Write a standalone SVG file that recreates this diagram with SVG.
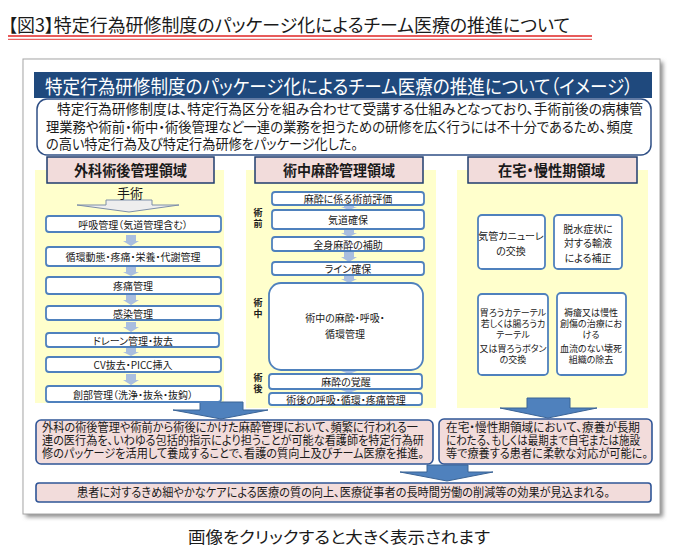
<svg xmlns="http://www.w3.org/2000/svg" width="690" height="550" viewBox="0 0 690 550">
<defs>
<style>
.t{font-family:"Noto Sans CJK JP","Noto Sans",sans-serif;font-feature-settings:"palt" 1;fill:#1a1a1a;}
.c{text-anchor:middle;dominant-baseline:central;}
.s10{font-size:10px;}
.s9{font-size:9px;}
.box{fill:#fff;stroke:#4f81bd;stroke-width:1.8;}
.hdr{fill:#f2dcdb;stroke:#1f3d6e;stroke-width:1.5;}
.yel{fill:#ffffcc;}
.sm{fill:#a9bedf;}
.big{fill:#4f81bd;stroke:#3b6496;stroke-width:1;}
.pk{fill:#f2dcdb;stroke:#2f5597;stroke-width:1.6;}
.hl{font-size:14.5px;font-weight:bold;}
.side{font-size:9px;font-weight:bold;text-anchor:middle;}
</style>
<filter id="sh" x="-5%" y="-5%" width="110%" height="110%">
<feGaussianBlur stdDeviation="2"/>
</filter>
</defs>
<rect width="690" height="550" fill="#fff"/>

<g id="title">
<text class="t" x="8" y="32" font-size="18" textLength="562" lengthAdjust="spacingAndGlyphs">【図3】特定行為研修制度のパッケージ化によるチーム医療の推進について</text>
<line x1="8" y1="36" x2="592" y2="36" stroke="#e02424" stroke-width="1.6"/>
<line x1="8" y1="39.3" x2="592" y2="39.3" stroke="#e02424" stroke-width="0.9"/>
</g>

<g id="frame">
<rect x="26" y="62" width="637" height="455" fill="#8a8a8a" filter="url(#sh)"/>
<rect x="23" y="59" width="637" height="455" fill="#fff" stroke="#a6a6a6" stroke-width="1"/>
</g>

<g id="header">
<rect x="34" y="72" width="618" height="26" fill="#1f497d"/>
<text class="t" x="45" y="93.5" font-size="19.5" style="fill:#fff" textLength="588" lengthAdjust="spacingAndGlyphs">特定行為研修制度のパッケージ化によるチーム医療の推進について（イメージ）</text>
</g>

<g id="intro">
<rect x="37" y="99" width="614" height="56" rx="10" fill="#fff" stroke="#2f4f85" stroke-width="1.5"/>
<text class="t" font-size="14">
<tspan x="57" y="114" textLength="586" lengthAdjust="spacingAndGlyphs">特定行為研修制度は、特定行為区分を組み合わせて受講する仕組みとなっており、手術前後の病棟管</tspan>
<tspan x="46" y="131.5" textLength="587" lengthAdjust="spacingAndGlyphs">理業務や術前・術中・術後管理など一連の業務を担うための研修を広く行うには不十分であるため、頻度</tspan>
<tspan x="46" y="149" textLength="312" lengthAdjust="spacingAndGlyphs">の高い特定行為及び特定行為研修をパッケージ化した。</tspan>
</text>
</g>

<g id="backgrounds">
<rect class="yel" x="35" y="170" width="189" height="233"/>
<rect class="yel" x="246" y="170" width="190" height="238"/>
<rect class="yel" x="457" y="170" width="191" height="238"/>
</g>

<g id="connectors">
<path d="M106,200 H152 V205 H179 L129,212 L77,205 H106 Z" fill="#eeeeee" stroke="#7d8ea8" stroke-width="1"/>
<path class="sm" d="M126,235 h10 v6 h3 l-8,5 l-8,-5 h3 z"/>
<path class="sm" d="M126,267 h10 v5 h3 l-8,4 l-8,-4 h3 z"/>
<path class="sm" d="M126,295 h10 v5 h3 l-8,5 l-8,-5 h3 z"/>
<path class="sm" d="M126,322 h10 v5 h3 l-8,5 l-8,-5 h3 z"/>
<path class="sm" d="M126,348 h10 v4 h3 l-8,4 l-8,-4 h3 z"/>
<path class="sm" d="M126,374 h10 v6 h3 l-8,5 l-8,-5 h3 z"/>
<path class="sm" d="M344,205 h10 v2 h3 l-8,3 l-8,-3 h3 z"/>
<path class="sm" d="M344,229 h10 v4 h3 l-8,4 l-8,-4 h3 z"/>
<path class="sm" d="M344,251 h10 v6 h3 l-8,5 l-8,-5 h3 z"/>
<path class="sm" d="M344,275 h10 v4 h3 l-8,4 l-8,-4 h3 z"/>
<path class="sm" d="M344,370 h10 v1 h3 l-8,3 l-8,-3 h3 z"/>
<path class="sm" d="M344,389 h10 v1 h3 l-8,3 l-8,-3 h3 z"/>
<path class="big" d="M200,402 H243 V410 H268 L221,419 L173,410 H200 Z"/>
<path class="big" d="M527,398 H570 V408 H597 L548,418 L500,408 H527 Z"/>
<path class="big" d="M427,465 H468 V472 H493 L447,481 L400,472 H427 Z"/>
</g>

<g id="col-surgery">
<rect class="hdr" x="47" y="157" width="167" height="26"/>
<text class="t hl" x="74" y="176" textLength="113" lengthAdjust="spacingAndGlyphs">外科術後管理領域</text>
<text class="t" x="130" y="198" font-size="13" text-anchor="middle">手術</text>
</g>
<g id="s1"><rect class="box" x="46" y="216" width="175" height="16" rx="3"/><text class="t c s10" x="133" y="224">呼吸管理（気道管理含む）</text></g>
<g id="s2"><rect class="box" x="46" y="247" width="175" height="19" rx="3"/><text class="t c s10" x="133" y="256.5">循環動態・疼痛・栄養・代謝管理</text></g>
<g id="s3"><rect class="box" x="46" y="277" width="175" height="17" rx="3"/><text class="t c s10" x="133" y="285.5">疼痛管理</text></g>
<g id="s4"><rect class="box" x="46" y="306" width="175" height="14" rx="3"/><text class="t c s10" x="133" y="313">感染管理</text></g>
<g id="s5"><rect class="box" x="46" y="333" width="173" height="14" rx="3"/><text class="t c s10" x="133" y="340">ドレーン管理・抜去</text></g>
<g id="s6"><rect class="box" x="46" y="357" width="175" height="15" rx="3"/><text class="t c s10" x="133" y="364.5">CV抜去・PICC挿入</text></g>
<g id="s7"><rect class="box" x="46" y="386" width="175" height="16" rx="3"/><text class="t c s10" x="133" y="394">創部管理（洗浄・抜糸・抜鈎）</text></g>

<g id="col-anesthesia">
<rect class="hdr" x="255" y="157" width="168" height="26"/>
<text class="t hl" x="283" y="176" textLength="112" lengthAdjust="spacingAndGlyphs">術中麻酔管理領域</text>
<text class="t side" x="258" y="216">術</text><text class="t side" x="258" y="227">前</text>
<text class="t side" x="258" y="306">術</text><text class="t side" x="258" y="317">中</text>
<text class="t side" x="258" y="381">術</text><text class="t side" x="258" y="392">後</text>
</g>
<g id="a1"><rect class="box" x="272" y="192" width="152" height="13" rx="3"/><text class="t c s10" x="348" y="198.5">麻酔に係る術前評価</text></g>
<g id="a2"><rect class="box" x="272" y="210" width="152" height="19" rx="3"/><text class="t c s10" x="348" y="219.5">気道確保</text></g>
<g id="a3"><rect class="box" x="272" y="237" width="152" height="14" rx="3"/><text class="t c s10" x="348" y="244">全身麻酔の補助</text></g>
<g id="a4"><rect class="box" x="272" y="262" width="152" height="13" rx="3"/><text class="t c s10" x="348" y="268.5">ライン確保</text></g>
<g id="a5"><rect class="box" x="269" y="283" width="154" height="87" rx="12"/><text class="t c s10" x="345" y="317">術中の麻酔・呼吸・</text><text class="t c s10" x="345" y="333">循環管理</text></g>
<g id="a6"><rect class="box" x="269" y="374" width="153" height="15" rx="3"/><text class="t c s10" x="346" y="381.5">麻酔の覚醒</text></g>
<g id="a7"><rect class="box" x="269" y="393" width="153" height="12" rx="3"/><text class="t c s10" x="346" y="399">術後の呼吸・循環・疼痛管理</text></g>

<g id="col-home">
<rect class="hdr" x="468" y="157" width="169" height="26"/>
<text class="t hl" x="498" y="176" textLength="107" lengthAdjust="spacingAndGlyphs">在宅・慢性期領域</text>
</g>
<g id="h1"><rect class="box" x="478" y="215" width="67" height="54" rx="4"/><text class="t c s10" x="511" y="235">気管カニューレ</text><text class="t c s10" x="511" y="250">の交換</text></g>
<g id="h2"><rect class="box" x="554" y="215" width="68" height="54" rx="4"/><text class="t c s10" x="588" y="228">脱水症状に</text><text class="t c s10" x="588" y="242.5">対する輸液</text><text class="t c s10" x="588" y="257">による補正</text></g>
<g id="h3"><rect class="box" x="478" y="294" width="70" height="81" rx="4"/><text class="t c s9" x="513" y="312">胃ろうカテーテル</text><text class="t c s9" x="513" y="323">若しくは腸ろうカ</text><text class="t c s9" x="513" y="334">テーテル</text><text class="t c s9" x="513" y="348">又は胃ろうボタン</text><text class="t c s9" x="513" y="359">の交換</text></g>
<g id="h4"><rect class="box" x="557" y="293" width="69" height="82" rx="4"/><text class="t c s9" x="591" y="312">褥瘡又は慢性</text><text class="t c s9" x="591" y="323">創傷の治療にお</text><text class="t c s9" x="591" y="334">ける</text><text class="t c s9" x="591" y="348">血流のない壊死</text><text class="t c s9" x="591" y="359">組織の除去</text></g>

<g id="result-left">
<rect class="pk" x="36" y="420" width="397" height="44" rx="5"/>
<text class="t" font-size="12">
<tspan x="42" y="432" textLength="376" lengthAdjust="spacingAndGlyphs">外科の術後管理や術前から術後にかけた麻酔管理において、頻繁に行われる一</tspan>
<tspan x="42" y="445" textLength="382" lengthAdjust="spacingAndGlyphs">連の医行為を、いわゆる包括的指示により担うことが可能な看護師を特定行為研</tspan>
<tspan x="42" y="458" textLength="382" lengthAdjust="spacingAndGlyphs">修のパッケージを活用して養成することで、看護の質向上及びチーム医療を推進。</tspan>
</text>
</g>
<g id="result-right">
<rect class="pk" x="439" y="419" width="213" height="45" rx="5"/>
<text class="t" font-size="12">
<tspan x="446" y="432" textLength="194" lengthAdjust="spacingAndGlyphs">在宅・慢性期領域において、療養が長期</tspan>
<tspan x="446" y="445" textLength="194" lengthAdjust="spacingAndGlyphs">にわたる、もしくは最期まで自宅または施設</tspan>
<tspan x="446" y="458" textLength="202" lengthAdjust="spacingAndGlyphs">等で療養する患者に柔軟な対応が可能に。</tspan>
</text>
</g>
<g id="result-bottom">
<rect class="pk" x="36" y="483" width="615" height="19" rx="3"/>
<text class="t" x="77" y="497" font-size="12" textLength="533" lengthAdjust="spacingAndGlyphs">患者に対するきめ細やかなケアによる医療の質の向上、医療従事者の長時間労働の削減等の効果が見込まれる。</text>
</g>

<text class="t" x="188" y="543" font-size="16" textLength="302" lengthAdjust="spacingAndGlyphs">画像をクリックすると大きく表示されます</text>
</svg>
